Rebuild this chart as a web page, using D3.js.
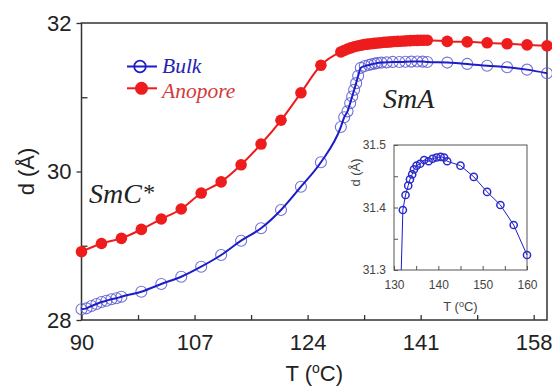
<!DOCTYPE html>
<html><head><meta charset="utf-8">
<script src="https://cdn.jsdelivr.net/npm/d3@7"></script>
<style>
html,body{margin:0;padding:0;background:#fff;}
svg{display:block;}
</style>
</head><body>
<script>
// ---------- data ----------
const bulkT = [90, 90.75, 91.5, 92.25, 93, 93.75, 94.5, 95.25, 96, 99, 102, 105, 108, 111, 114, 117, 120, 123, 126,
  129, 129.5, 130, 130.4, 130.7, 131, 131.3, 131.6,
  132, 132.6, 133.2, 133.6, 134.1, 134.5, 135.1, 135.9, 136.8, 137.8, 138.7, 139.6, 140.5, 141.3, 142,
  145, 148, 151, 154, 157, 160];
const bulkD = [28.144, 28.157, 28.189, 28.215, 28.242, 28.26, 28.279, 28.292, 28.314, 28.381, 28.485, 28.583, 28.718, 28.875, 29.068, 29.235, 29.481, 29.795, 30.124,
  30.60, 30.73, 30.81, 30.92, 31.01, 31.10, 31.19, 31.29,
  31.396, 31.42, 31.435, 31.445, 31.453, 31.461, 31.467, 31.47, 31.476, 31.474, 31.478, 31.48, 31.481, 31.48, 31.474,
  31.467, 31.449, 31.425, 31.404, 31.372, 31.324];

const anoT = [90, 93, 96, 99, 102, 105, 108, 111, 114, 117, 120, 123, 126,
  129, 129.5, 130, 130.5, 131, 131.5, 132, 132.5, 133, 133.5, 134, 134.5, 135, 135.5, 136, 136.5, 137, 137.5, 138, 138.5, 139, 139.5, 140, 140.5, 141, 141.5, 142,
  145, 148, 151, 154, 157, 160];
const anoD = [28.92, 29.03, 29.10, 29.22, 29.36, 29.495, 29.71, 29.86, 30.09, 30.37, 30.69, 31.06, 31.43,
  31.61, 31.63, 31.65, 31.665, 31.68, 31.69, 31.70, 31.71, 31.715, 31.72, 31.725, 31.73, 31.735, 31.74, 31.743, 31.746, 31.75, 31.752, 31.755, 31.757, 31.76, 31.762, 31.764, 31.766, 31.767, 31.768, 31.768,
  31.752, 31.746, 31.733, 31.72, 31.705, 31.693];

const xTickLabels = [90, 107, 124, 141, 158];
const xMinorTicks = [98.5, 115.5, 132.5, 149.5];
const yTickLabels = [28, 30, 32];
const yMinorTicks = [29, 31];
const insetXTicks = [130, 140, 150, 160];
const insetXMinor = [135, 145, 155];
const insetYTicks = [31.3, 31.4, 31.5];
const insetYMinor = [31.35, 31.45];
const seriesNames = ["Bulk", "Anopore"];

// ---------- setup ----------
const W = 552, H = 386;
const svg = d3.select("body").append("svg").attr("width", W).attr("height", H);
const blueLine = "#1c1cc8", blueMark = "#5a5ad0", red = "#ee1c1c";
const sans = "'Liberation Sans', Arial, sans-serif";
const serif = "'Liberation Serif', 'Times New Roman', serif";

const m = {left: 81.5, right: 547, top: 23, bottom: 320};
const x = d3.scaleLinear().domain([90, 160]).range([m.left, m.right]);
const y = d3.scaleLinear().domain([28, 32]).range([m.bottom, m.top]);

// clip
svg.append("clipPath").attr("id", "mainClip").append("rect")
  .attr("x", m.left - 8).attr("y", m.top - 8).attr("width", m.right - m.left + 16).attr("height", m.bottom - m.top + 8);

// frame
svg.append("rect").attr("x", m.left).attr("y", m.top).attr("width", m.right - m.left).attr("height", m.bottom - m.top)
  .attr("fill", "none").attr("stroke", "#333").attr("stroke-width", 1.5);

// axes
const xAx = svg.append("g").attr("transform", `translate(0,${m.bottom})`)
  .call(d3.axisBottom(x).tickValues(xTickLabels).tickFormat(d3.format("d")).tickSizeInner(-5).tickSizeOuter(0).tickPadding(14.5));
const xAxMinor = svg.append("g").attr("transform", `translate(0,${m.bottom})`)
  .call(d3.axisBottom(x).tickValues(xMinorTicks).tickFormat("").tickSizeInner(-5).tickSizeOuter(0));
const yAx = svg.append("g").attr("transform", `translate(${m.left},0)`)
  .call(d3.axisLeft(y).tickValues(yTickLabels).tickFormat(d3.format("d")).tickSizeInner(5).tickSizeOuter(0).tickPadding(5));
const yAxMinor = svg.append("g").attr("transform", `translate(${m.left},0)`)
  .call(d3.axisLeft(y).tickValues(yMinorTicks).tickFormat("").tickSizeInner(-6).tickSizeOuter(0));
[xAx, xAxMinor, yAx, yAxMinor].forEach(g => {
  g.select(".domain").remove();
  g.selectAll("line").attr("stroke", "#333").attr("stroke-width", 1.3);
  g.selectAll("text").attr("font-family", sans).attr("font-size", 22).attr("fill", "#222");
});

// axis titles
const xt = svg.append("text").attr("x", (m.left + m.right) / 2).attr("y", 381).attr("text-anchor", "middle")
  .attr("font-family", sans).attr("font-size", 22).attr("fill", "#222");
xt.append("tspan").text("T (");
xt.append("tspan").text("o").attr("font-size", 14).attr("dy", -8);
xt.append("tspan").text("C)").attr("dy", 8);
svg.append("text").attr("transform", `translate(34,${(m.top + m.bottom) / 2}) rotate(-90)`).attr("text-anchor", "middle")
  .attr("font-family", sans).attr("font-size", 22).attr("fill", "#222").text("d (Å)");

// data layers
const plot = svg.append("g").attr("clip-path", "url(#mainClip)");
const bulk = bulkT.map((t, i) => ({t, d: bulkD[i]}));
const ano = anoT.map((t, i) => ({t, d: anoD[i]}));
const line = d3.line().x(p => x(p.t)).y(p => y(p.d)).curve(d3.curveMonotoneX);

plot.selectAll("circle.bulk").data(bulk).join("circle").attr("class", "bulk")
  .attr("cx", p => x(p.t)).attr("cy", p => y(p.d)).attr("r", 5.5)
  .attr("fill", "none").attr("stroke", blueMark).attr("stroke-width", 1.1).attr("stroke-opacity", 0.85);
plot.append("path").datum(bulk).attr("d", line).attr("fill", "none").attr("stroke", blueLine).attr("stroke-width", 2);

plot.append("path").datum(ano).attr("d", line).attr("fill", "none").attr("stroke", red).attr("stroke-width", 2);
plot.selectAll("circle.ano").data(ano).join("circle").attr("class", "ano")
  .attr("cx", p => x(p.t)).attr("cy", p => y(p.d)).attr("r", 5.8).attr("fill", red);

// legend
const lg = svg.append("g");
const legendColors = [blueLine, red];
const legendText = ["#2424b4", "#d23a3a"];
const legendLineY = [66.5, 88.3];
const legendTextY = [73, 97.5];
seriesNames.forEach((name, i) => {
  const yy = legendLineY[i];
  lg.append("line").attr("x1", 127).attr("x2", 157).attr("y1", yy).attr("y2", yy).attr("stroke", legendColors[i]).attr("stroke-width", 2);
  if (i === 0) {
    lg.append("circle").attr("cx", 140).attr("cy", yy).attr("r", 5.8).attr("fill", "none").attr("stroke", legendColors[i]).attr("stroke-width", 1.8);
  } else {
    lg.append("circle").attr("cx", 141.5).attr("cy", yy).attr("r", 6.5).attr("fill", red);
  }
  lg.append("text").attr("x", 162).attr("y", legendTextY[i]).attr("font-family", serif).attr("font-style", "italic")
    .attr("font-size", 21.5).attr("fill", legendText[i]).text(name);
});

// phase labels
const smc = svg.append("text").attr("x", 89).attr("y", 203).attr("font-family", serif).attr("font-style", "italic")
  .attr("font-size", 28).attr("fill", "#222");
smc.append("tspan").text("SmC");
smc.append("tspan").text("*").attr("font-size", 24).attr("dy", -3);
svg.append("text").attr("x", 383).attr("y", 108).attr("font-family", serif).attr("font-style", "italic")
  .attr("font-size", 28).attr("fill", "#222").text("SmA");

// ---------- inset ----------
const im = {left: 394, right: 527, top: 145, bottom: 270};
const ix = d3.scaleLinear().domain([130, 160]).range([im.left, im.right]);
const iy = d3.scaleLinear().domain([31.3, 31.5]).range([im.bottom, im.top]);
svg.append("clipPath").attr("id", "insetClip").append("rect")
  .attr("x", im.left).attr("y", im.top - 6).attr("width", im.right - im.left + 6).attr("height", im.bottom - im.top + 6);

svg.append("rect").attr("x", im.left).attr("y", im.top).attr("width", im.right - im.left).attr("height", im.bottom - im.top)
  .attr("fill", "none").attr("stroke", "#555").attr("stroke-width", 1);

const ixAx = svg.append("g").attr("transform", `translate(0,${im.bottom})`)
  .call(d3.axisBottom(ix).tickValues(insetXTicks).tickFormat(d3.format("d")).tickSizeInner(-4).tickSizeOuter(0).tickPadding(10));
const ixMin = svg.append("g").attr("transform", `translate(0,${im.bottom})`)
  .call(d3.axisBottom(ix).tickValues(insetXMinor).tickFormat("").tickSizeInner(-4).tickSizeOuter(0));
const iyAx = svg.append("g").attr("transform", `translate(${im.left},0)`)
  .call(d3.axisLeft(iy).tickValues(insetYTicks).tickFormat(d3.format(".1f")).tickSizeInner(-4).tickSizeOuter(0).tickPadding(8));
const iyMin = svg.append("g").attr("transform", `translate(${im.left},0)`)
  .call(d3.axisLeft(iy).tickValues(insetYMinor).tickFormat("").tickSizeInner(-4).tickSizeOuter(0));
[ixAx, ixMin, iyAx, iyMin].forEach(g => {
  g.select(".domain").remove();
  g.selectAll("line").attr("stroke", "#555").attr("stroke-width", 1);
  g.selectAll("text").attr("font-family", sans).attr("font-size", 12).attr("fill", "#444");
});

const ixt = svg.append("text").attr("x", (im.left + im.right) / 2).attr("y", 311).attr("text-anchor", "middle")
  .attr("font-family", sans).attr("font-size", 13).attr("fill", "#444");
ixt.append("tspan").text("T (");
ixt.append("tspan").text("o").attr("font-size", 9).attr("dy", -4);
ixt.append("tspan").text("C)").attr("dy", 4);
svg.append("text").attr("transform", `translate(360,${(im.top + im.bottom) / 2 - 35}) rotate(-90)`).attr("text-anchor", "middle")
  .attr("font-family", sans).attr("font-size", 13).attr("fill", "#444").text("d (Å)");

const iplot = svg.append("g").attr("clip-path", "url(#insetClip)");
const inBulk = bulk.filter(p => p.t >= 131.5);
const iline = d3.line().x(p => ix(p.t)).y(p => iy(p.d));
iplot.append("path").datum(inBulk).attr("d", iline).attr("fill", "none").attr("stroke", blueLine).attr("stroke-width", 1);
iplot.selectAll("circle").data(inBulk.filter(p => p.d >= 31.3)).join("circle")
  .attr("cx", p => ix(p.t)).attr("cy", p => iy(p.d)).attr("r", 3.6)
  .attr("fill", "none").attr("stroke", "#2a2acc").attr("stroke-width", 1.5);
</script>
</body></html>
